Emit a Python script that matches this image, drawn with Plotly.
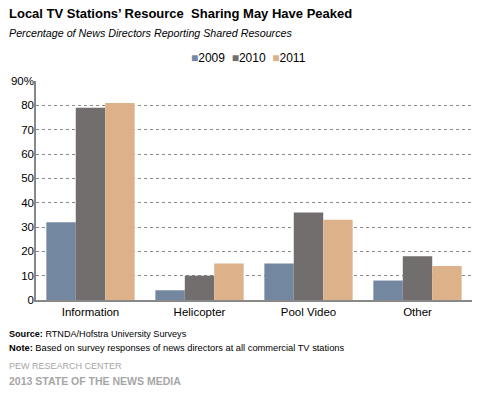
import plotly.graph_objects as go

categories = ["Information", "Helicopter", "Pool Video", "Other"]
years = ["2009", "2010", "2011"]
values_2009 = [32, 4, 15, 8]
values_2010 = [79, 10, 36, 18]
values_2011 = [81, 15, 33, 14]
colors = ["#7487A0", "#726E6E", "#DDB28A"]
ytick_vals = [0, 10, 20, 30, 40, 50, 60, 70, 80, 90]
ytick_text = ["0", "10", "20", "30", "40", "50", "60", "70", "80", "90%"]

FONT = "Liberation Sans, Arial, sans-serif"

L, R, T, B = 36, 11, 81, 96
W, H = 483, 396
PW, PH = W - L - R, H - T - B

fig = go.Figure()
for name, vals, col in zip(years, [values_2009, values_2010, values_2011], colors):
    fig.add_trace(go.Bar(name=name, x=categories, y=vals, marker=dict(color=col, line=dict(width=0))))

fig.update_layout(
    width=W, height=H,
    margin=dict(l=L, r=R, t=T, b=B, autoexpand=False),
    paper_bgcolor="white", plot_bgcolor="white",
    font=dict(family=FONT, size=11, color="#000000"),
    barmode="group", bargap=0.19, bargroupgap=0,
    showlegend=False,
    xaxis=dict(showline=True, linecolor="#888888", linewidth=1.5, ticks="", automargin=False,
               tickfont=dict(size=11.5, family=FONT), showgrid=False),
    yaxis=dict(range=[0, 90], tickvals=ytick_vals, ticktext=ytick_text, automargin=False,
               showline=True, linecolor="#888888", linewidth=1.5,
               showgrid=True, gridcolor="#888888", griddash="dot", gridwidth=1,
               zeroline=False, ticks="", ticklabelstandoff=-2,
               tickfont=dict(size=11.5, family=FONT)),
)

def px(x):
    return (x - L) / PW

def py(y):
    return 1 - (y - T) / PH

# legend as a single text line with coloured squares
legend_text = "&nbsp;&nbsp;".join(
    f"<span style='color:{c}'>■</span>{y}" for y, c in zip(years, colors)
)
fig.add_annotation(xref="paper", yref="paper", x=px(248), y=py(58), xanchor="center", yanchor="middle",
                   showarrow=False, text=legend_text, font=dict(size=12, family=FONT, color="#000000"))

annos = [
    dict(text="<b>Local TV Stations’ Resource  Sharing May Have Peaked</b>", y=14, size=13, color="#000000"),
    dict(text="<i>Percentage of News Directors Reporting Shared Resources</i>", y=33, size=10.7, color="#000000"),
    dict(text="<b>Source:</b> RTNDA/Hofstra University Surveys", y=334, size=9.1, color="#000000"),
    dict(text="<b>Note:</b> Based on survey responses of news directors at all commercial TV stations", y=348, size=9.3, color="#000000"),
    dict(text="PEW RESEARCH CENTER", y=366, size=9, color="#A6A6A6"),
    dict(text="<b>2013 STATE OF THE NEWS MEDIA</b>", y=381, size=10.5, color="#A6A6A6"),
]
for a in annos:
    fig.add_annotation(xref="paper", yref="paper", x=px(7), y=py(a["y"]),
                       xanchor="left", yanchor="middle", showarrow=False,
                       text=a["text"], font=dict(size=a["size"], color=a["color"], family=FONT))

fig.write_html("out.html", config={"displayModeBar": False},
               post_script="document.body.style.margin='0';")
